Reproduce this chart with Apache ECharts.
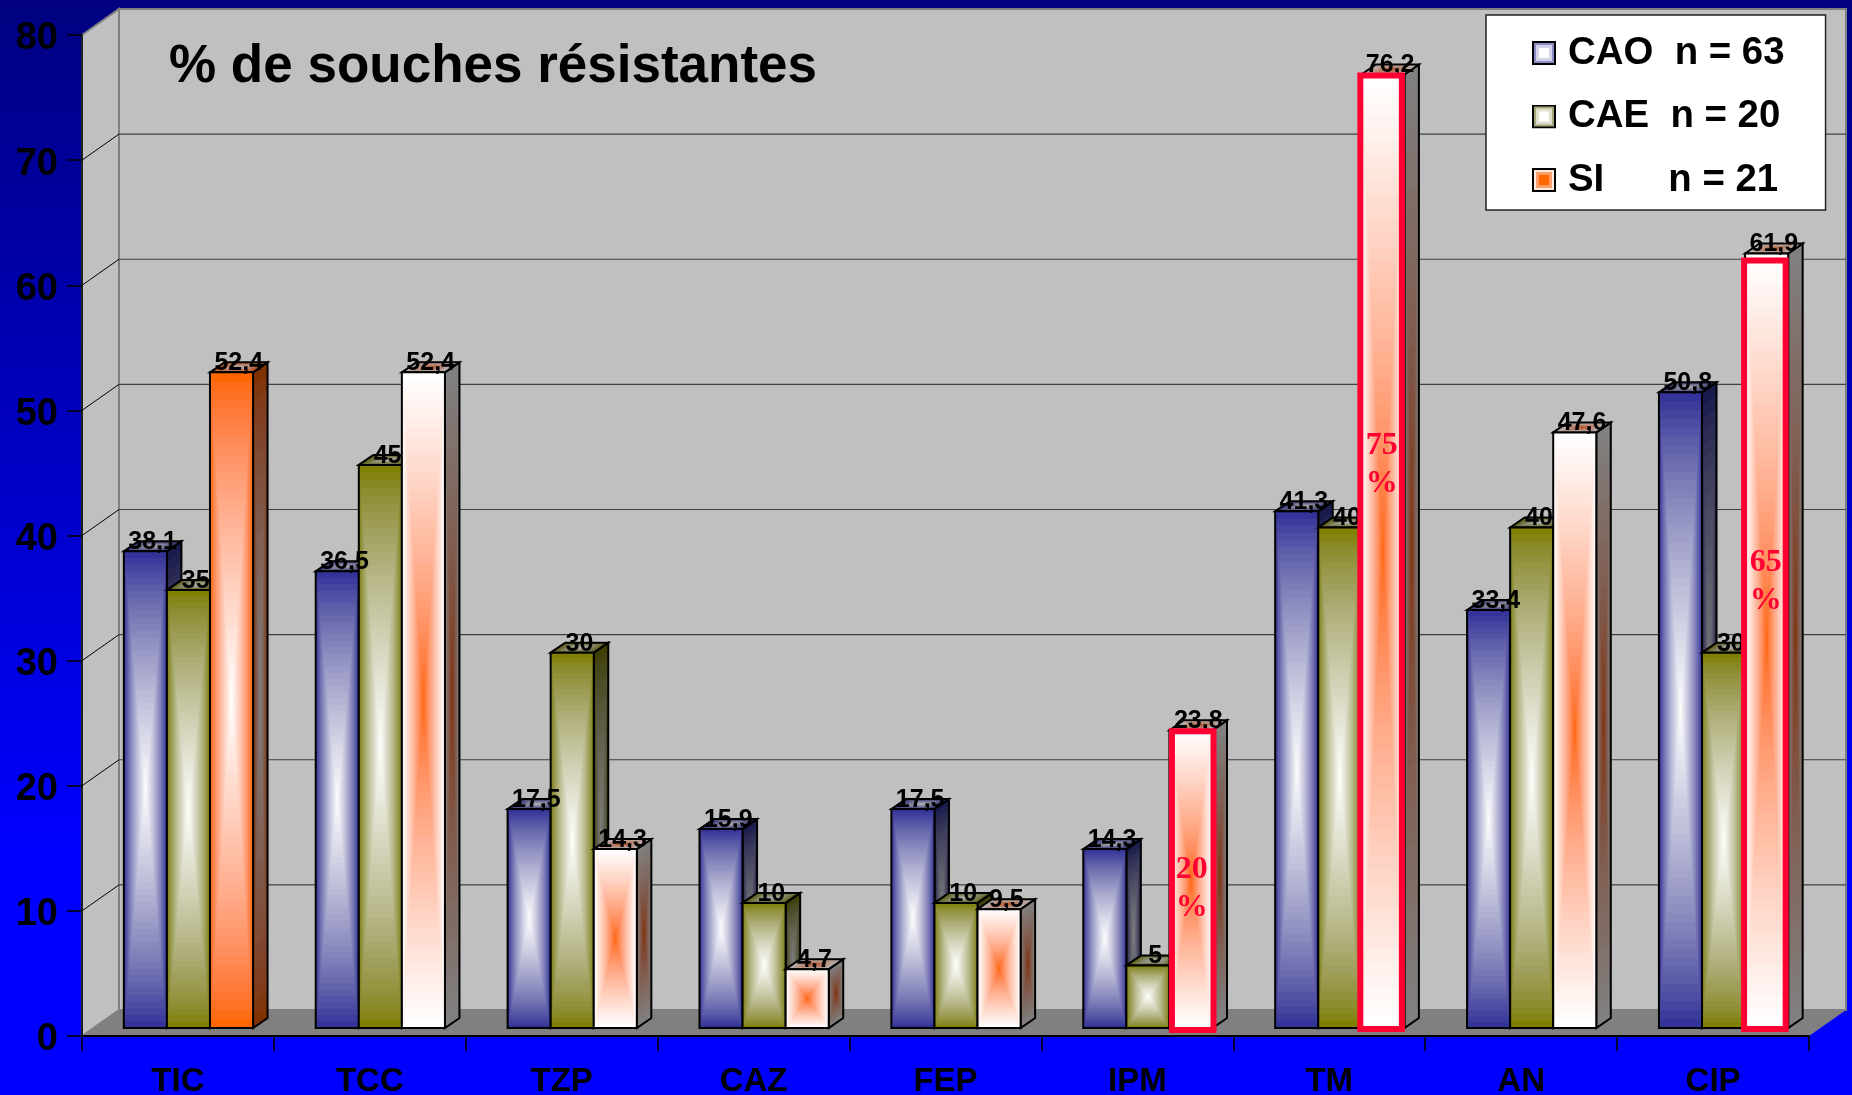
<!DOCTYPE html>
<html><head><meta charset="utf-8">
<style>html,body{margin:0;padding:0;width:1852px;height:1095px;overflow:hidden;background:#00f}#c{width:1852px;height:1095px}</style>
<script src="https://cdn.jsdelivr.net/npm/echarts@6/dist/echarts.min.js"></script>
</head><body><div id="c"></div>
<script>
const categories = ['TIC','TCC','TZP','CAZ','FEP','IPM','TM','AN','CIP'];
const cao = [38.1,36.5,17.5,15.9,17.5,14.3,41.3,33.4,50.8];
const cae = [35,45,30,10,10,5,40,40,30];
const si  = [52.4,52.4,14.3,4.7,9.5,23.8,76.2,47.6,61.9];
const yTicks = [0,10,20,30,40,50,60,70,80];
const seriesNames = ['CAO  n = 63','CAE  n = 20','SI      n = 21'];
const titleText = '% de souches résistantes';
const callouts = [[5,'20',11.1],[6,'75',45],[8,'65',35.7]];

const FONT = '"Liberation Sans", Arial, sans-serif';
const RED = '#FF0033';
const DX = 37, DY = 26;
const BDX = 14.5, BDY = 10;
const LIFT = 8, SHIFT = 10.5;
const STEPS = 36;
const GAMMA = 1.5;

const hex = c => [1,3,5].map(i => parseInt(c.substr(i,2),16));
const toLin = v => Math.pow(v/255,GAMMA), toS = v => Math.round(255*Math.pow(v,1/GAMMA));
const mix = (a,b,t,k=1) => { const A=hex(a),B=hex(b); return 'rgb('+A.map((v,i)=>Math.round(k*toS(toLin(v)+(toLin(B[i])-toLin(v))*t))).join(',')+')'; };

const palettes = [
  {edge:'#333399', center:'#FFFFFF'},
  {edge:'#808000', center:'#FFFFFF'},
  {edge:'#FFFFFF', center:'#FF6600'}
];
const paletteFor = (s,cat) => (s===2 && cat===0) ? {edge:'#FF6600',center:'#FFFFFF'} : palettes[s];

function geom(s, api){
  const cat = api.value(0), val = api.value(1);
  const top = api.coord([cat,val]), base = api.coord([cat,0]);
  const w = api.size([1,0])[0]*0.2245;
  const x0 = top[0] + SHIFT + (s-1.5)*w, y0 = top[1]-LIFT, y1 = base[1]-LIFT;
  return {cat,val,w,x0,y0,y1,h:y1-y0};
}
function nested(pts, p, k, steps){
  const cx = pts.reduce((a,q)=>a+q[0],0)/pts.length, cy = pts.reduce((a,q)=>a+q[1],0)/pts.length, out=[];
  for(let i=0;i<steps;i++){
    const t=i/steps, f=1-t;
    out.push({type:'polygon',shape:{points:pts.map(q=>[cx+(q[0]-cx)*f,cy+(q[1]-cy)*f])},style:{fill:mix(p.edge,p.center,t,k)}});
  }
  return out;
}
function barRender(s){
  return function(params, api){
    const g = geom(s,api), p = paletteFor(s,g.cat), ch=[];
    const {x0,y0,y1,w,h} = g;
    const side = [[x0+w,y0],[x0+w+BDX,y0-BDY],[x0+w+BDX,y1-BDY],[x0+w,y1]];
    const top = [[x0,y0],[x0+BDX,y0-BDY],[x0+w+BDX,y0-BDY],[x0+w,y0]];
    ch.push(...nested(side,p,.5,24));
    ch.push({type:'polygon',shape:{points:side},style:{fill:'none',stroke:'#000',lineWidth:2}});
    ch.push(...nested(top,p,.72,10));
    ch.push({type:'polygon',shape:{points:top},style:{fill:'none',stroke:'#000',lineWidth:2}});
    ch.push(...nested([[x0,y0],[x0+w,y0],[x0+w,y1],[x0,y1]],p,1,STEPS));
    ch.push({type:'rect',shape:{x:x0,y:y0,width:w,height:h},style:{fill:'none',stroke:'#000',lineWidth:2}});
    return {type:'group',children:ch};
  };
}
function labelRender(s){
  return function(params, api){
    const {val,x0,y0,w} = geom(s,api);
    return {type:'text',style:{text:String(val).replace('.',','),x:x0+w/2+BDX/2,y:y0-9,font:'bold 25px '+FONT,fill:'#000',align:'center',verticalAlign:'middle'}};
  };
}
function calloutRender(params, api){
  const {cat,x0,y0,w,h} = geom(2,api);
  const note = callouts.find(c=>c[0]===cat);
  if(!note) return null;
  const inset = cat===8 ? 7 : 1;
  const nudge = cat===5 ? 3.5 : 0;
  const ny = api.coord([cat,note[2]])[1]-LIFT;
  const f = 'bold 32px "Liberation Serif", serif';
  const tx = x0+w/2-1+nudge/2;
  return {type:'group',children:[
    {type:'rect',shape:{x:x0-1+nudge,y:y0+inset,width:w-1.5,height:h-inset+1+(cat===5?1:0)},style:{fill:'none',stroke:RED,lineWidth:6}},
    {type:'text',style:{text:note[1],x:tx,y:ny-19,font:f,fill:RED,align:'center',verticalAlign:'middle'}},
    {type:'text',style:{text:'%',x:tx,y:ny+19,font:f,fill:RED,align:'center',verticalAlign:'middle'}}
  ]};
}
function wallRender(params, api){
  const c = params.coordSys, L=c.x, R=c.x+c.width, T=c.y, B=c.y+c.height;
  return {type:'group',children:[
    {type:'polygon',shape:{points:[[L,T],[L+DX,T-DY],[L+DX,B-DY],[L,B]]},style:{fill:'#C0C0C0',stroke:'#808080',lineWidth:2}},
    {type:'rect',shape:{x:L+DX,y:T-DY,width:c.width,height:c.height},style:{fill:'#C0C0C0',stroke:'#808080',lineWidth:2}},
    {type:'polygon',shape:{points:[[L,B],[L+DX,B-DY],[R+DX,B-DY],[R,B]]},style:{fill:'#808080'}}
  ]};
}
function gridRender(params, api){
  const v = api.value(1), c = params.coordSys, y = api.coord([0,v])[1];
  if(v===0||v===80) return null;
  return {type:'group',children:[
    {type:'line',shape:{x1:c.x,y1:y,x2:c.x+DX,y2:y-DY},style:{stroke:'#000',lineWidth:1}},
    {type:'line',shape:{x1:c.x+DX,y1:y-DY,x2:c.x+c.width+DX,y2:y-DY},style:{stroke:'#404040',lineWidth:1.2}}
  ]};
}
function icon(o,m,i){
  const svg = `<svg xmlns="http://www.w3.org/2000/svg" width="24" height="24"><rect x="1" y="1" width="22" height="22" fill="${o}" stroke="#000" stroke-width="2"/><rect x="4" y="4" width="16" height="16" fill="${m}"/><rect x="7" y="7" width="10" height="10" fill="${i}"/></svg>`;
  return 'image://data:image/svg+xml;charset=utf-8,'+encodeURIComponent(svg);
}
const icons = [icon('#8C8CC6','#D2D2E8','#FFFFFF'), icon('#A6A67A','#DEDECB','#FFFFFF'), icon('#FFEDE3','#FF9D66','#FF6600')];
const rows = [cao,cae,si];
const chart = echarts.init(document.getElementById('c'), null, {renderer:'canvas'});
chart.setOption({
  animation:false,
  backgroundColor:{type:'linear',x:0,y:0,x2:0,y2:1,colorStops:[{offset:0,color:'#000080'},{offset:.78,color:'#0000FF'},{offset:1,color:'#0000FF'}]},
  title:{text:titleText,left:164,top:36,textStyle:{fontFamily:FONT,fontWeight:'bold',fontSize:53,color:'#000'}},
  legend:{
    left:1486,top:15,orient:'vertical',selectedMode:false,
    backgroundColor:'#fff',borderColor:'#222',borderWidth:1.5,borderRadius:0,
    padding:[19,41,11,46],itemWidth:24,itemHeight:24,itemGap:25.5,
    textStyle:{fontFamily:FONT,fontWeight:'bold',fontSize:38.4,color:'#000',padding:[0,0,0,7]},
    data:seriesNames.map((n,i)=>({name:n,icon:icons[i]}))
  },
  grid:{left:82,right:43,top:35,bottom:59,outerBoundsMode:'none'},
  xAxis:{type:'category',data:categories,z:5,
    axisLine:{lineStyle:{color:'#000',width:2}},
    axisTick:{show:true,length:15,lineStyle:{color:'#000',width:1.5}},
    axisLabel:{color:'#000',fontFamily:FONT,fontWeight:'bold',fontSize:33,margin:29}},
  yAxis:{type:'value',min:0,max:80,interval:10,z:5,
    axisLine:{show:true,lineStyle:{color:'#000',width:1.5}},
    axisTick:{show:true,length:15,lineStyle:{color:'#000',width:1.5}},
    splitLine:{show:false},
    axisLabel:{margin:24,formatter:'{v|{value}}',
      rich:{v:{color:'#000',fontFamily:FONT,fontWeight:'bold',fontSize:38,padding:[8,0,0,0]}}}},
  series:[
    {type:'custom',name:'walls',z:1,silent:true,renderItem:wallRender,data:[[0,0]]},
    {type:'custom',name:'grid',z:1,silent:true,renderItem:gridRender,data:yTicks.map(v=>[0,v])},
    ...rows.map((arr,s)=>({type:'custom',name:seriesNames[s],z:2,silent:true,clip:false,renderItem:barRender(s),
      itemStyle:{color:palettes[s].edge},data:arr.map((v,i)=>[i,v])})),
    ...rows.map((arr,s)=>({type:'custom',name:'labels'+s,z:3,silent:true,clip:false,renderItem:labelRender(s),data:arr.map((v,i)=>[i,v])})),
    {type:'custom',name:'callouts',z:4,silent:true,clip:false,renderItem:calloutRender,data:si.map((v,i)=>[i,v])}
  ]
});
</script></body></html>
